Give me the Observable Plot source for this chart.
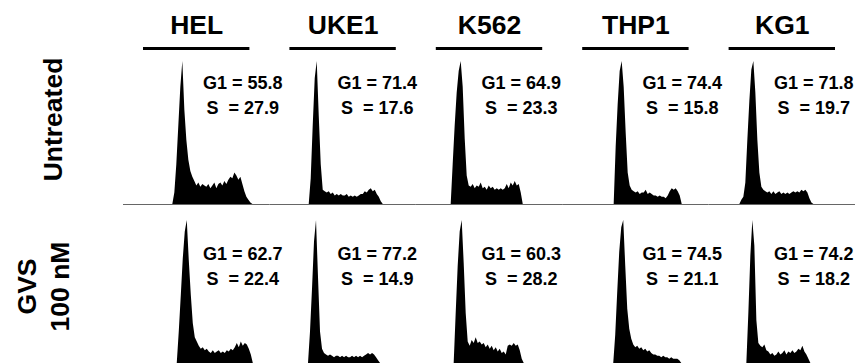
<!DOCTYPE html>
<html>
<head>
<meta charset="utf-8">
<script src="https://cdn.jsdelivr.net/npm/d3@7"></script>
<script src="https://cdn.jsdelivr.net/npm/@observablehq/plot@0.6"></script>
<style>
  html, body { margin: 0; padding: 0; background: #fff; }
</style>
</head>
<body>
<div id="chart"></div>
<script>
// ---- data ----
const cellLines = ["HEL", "UKE1", "K562", "THP1", "KG1"];
const treatments = ["Untreated", "GVS 100 nM"];
const rowLabels = ["Untreated", "GVS\n100 nM"];

const g1Untreated = [55.8, 71.4, 64.9, 74.4, 71.8];
const sUntreated  = [27.9, 17.6, 23.3, 15.8, 19.7];
const g1GVS       = [62.7, 77.2, 60.3, 74.5, 74.2];
const sGVS        = [22.4, 14.9, 28.2, 21.1, 18.2];

// DNA content (PI) channel of first bin, 1024-channel scale; bin width in channels
const binWidth = 14;
const startUntreated = [345, 275, 244, 360, 215];
const startGVS       = [376, 270, 265, 357, 264];

// relative cell counts per bin (% of G1 peak)
const helUntreated  = [0,8,28,55,82,100,66,45,31,23,19,16,13,15,12,14,13,12,14,11,13,15,11,14,15,13,16,14,17,19,18,22,20,17,19,14,9,5,3,1,0];
const uke1Untreated = [0,18,55,88,100,62,28,10,9,8,9,7,8,6,7,6,7,6,6,7,5,6,5,6,5,6,7,7,9,8,10,11,9,10,7,5,2,0];
const k562Untreated = [0,28,55,78,93,100,82,46,20,13,12,14,11,13,12,15,11,12,10,13,11,12,10,11,10,11,10,11,14,11,15,13,16,13,14,8,0];
const thp1Untreated = [0,40,70,93,100,82,50,22,13,10,9,8,9,7,8,8,10,7,8,7,6,6,5,6,5,5,4,6,9,11,10,11,9,6,0];
const kg1Untreated  = [0,3,5,15,45,72,94,100,78,45,22,12,10,9,8,9,7,9,7,8,9,7,8,7,8,7,8,9,8,9,8,10,9,10,8,4,1,0];

const helGVS  = [0,22,47,73,92,100,72,48,28,18,15,12,10,11,9,10,8,7,9,7,8,9,7,8,7,9,8,10,9,11,14,11,15,12,14,13,10,6,0];
const uke1GVS = [0,22,52,85,100,60,22,10,7,6,5,6,5,4,5,5,4,5,4,5,4,4,5,4,5,4,5,4,5,6,7,6,7,6,4,2,0];
const k562GVS = [0,35,68,92,100,70,35,15,12,16,14,18,14,15,13,14,11,13,10,12,9,11,8,10,7,8,6,12,13,12,14,12,13,9,3,0];
const thp1GVS = [0,20,50,78,95,100,68,38,24,17,13,11,12,10,11,9,10,8,9,7,6,6,5,5,4,5,4,4,3,4,3,3,3,2,0];
const kg1GVS  = [0,35,75,100,82,30,14,12,11,13,9,8,6,7,5,6,8,6,7,9,6,8,7,9,7,8,10,9,12,8,6,3,0];

// ---- build tables ----
const countsByRow = [
  [helUntreated, uke1Untreated, k562Untreated, thp1Untreated, kg1Untreated],
  [helGVS, uke1GVS, k562GVS, thp1GVS, kg1GVS]
];
const startsByRow = [startUntreated, startGVS];
const g1ByRow = [g1Untreated, g1GVS];
const sByRow = [sUntreated, sGVS];

const hist = [];
countsByRow.forEach((row, r) => row.forEach((counts, c) => counts.forEach((v, i) => {
  hist.push({line: cellLines[c], treatment: treatments[r], channel: startsByRow[r][c] + i * binWidth, count: v});
})));

// G1 peak channel of the untreated profile in each column (labels sit to its right)
const peakChannel = countsByRow[0].map((counts, c) => startsByRow[0][c] + d3.maxIndex(counts) * binWidth);

const labels = [];
treatments.forEach((t, r) => cellLines.forEach((l, c) => {
  labels.push({line: l, treatment: t, x: peakChannel[c],
    text: `G1 = ${g1ByRow[r][c].toFixed(1)}\nS\u00a0 = ${sByRow[r][c].toFixed(1)}`});
}));

const font = "'Liberation Sans', Arial, Helvetica, sans-serif";

const chart = Plot.plot({
  width: 859,
  height: 363,
  marginTop: 61,
  marginBottom: 0,
  marginLeft: 123,
  marginRight: 4,
  style: {fontFamily: font, background: "#fff", color: "#000"},
  fx: {domain: cellLines, axis: null, paddingInner: 0, paddingOuter: 0, round: false},
  fy: {domain: treatments, axis: null, paddingInner: 0.1006, paddingOuter: 0, round: false},
  x: {domain: [0, 1024], axis: null},
  y: {domain: [0, 100], axis: null},
  marks: [
    // baseline of the upper row
    Plot.ruleY(cellLines, {fx: d => d, fy: () => treatments[0], y: () => 0, stroke: "#666", strokeWidth: 1}),
    // DNA-content histograms
    Plot.areaY(hist, {fx: "line", fy: "treatment", x: "channel", y: "count", fill: "#000", curve: "linear"}),
    // column headers and underlines
    Plot.text(cellLines, {fx: d => d, fy: () => treatments[0], frameAnchor: "top", text: d => d,
      lineAnchor: "bottom", dy: -28, fontSize: 26.5, fontWeight: "bold", fill: "#000"}),
    Plot.ruleY(cellLines, {fx: d => d, fy: () => treatments[0], y: () => 100, dy: -13,
      insetLeft: 20, insetRight: 20, stroke: "#000", strokeWidth: 3}),
    // row labels
    Plot.text([rowLabels[0]], {fx: () => cellLines[0], fy: () => treatments[0], frameAnchor: "left",
      text: d => d, rotate: -90, textAnchor: "middle", lineAnchor: "middle", dx: -69.5, dy: -13.5,
      fontSize: 26.5, fontWeight: "bold", fill: "#000"}),
    Plot.text([rowLabels[1]], {fx: () => cellLines[0], fy: () => treatments[1], frameAnchor: "left",
      text: d => d, rotate: -90, textAnchor: "middle", lineAnchor: "middle", lineHeight: 1.245,
      dx: -82, dy: -5.5, fontSize: 26.5, fontWeight: "bold", fill: "#000"}),
    // G1 / S percentages
    Plot.text(labels.filter(d => d.treatment === treatments[0]), {fx: "line", fy: "treatment", x: "x",
      frameAnchor: "top", text: "text", textAnchor: "middle", lineAnchor: "top", lineHeight: 1.39,
      dx: 60, dy: 10, fontSize: 18, fontWeight: "bold", fill: "#000"}),
    Plot.text(labels.filter(d => d.treatment === treatments[1]), {fx: "line", fy: "treatment", x: "x",
      frameAnchor: "top", text: "text", textAnchor: "middle", lineAnchor: "top", lineHeight: 1.39,
      dx: 60, dy: 21.5, fontSize: 18, fontWeight: "bold", fill: "#000"})
  ]
});

document.getElementById("chart").appendChild(chart);
</script>
</body>
</html>
